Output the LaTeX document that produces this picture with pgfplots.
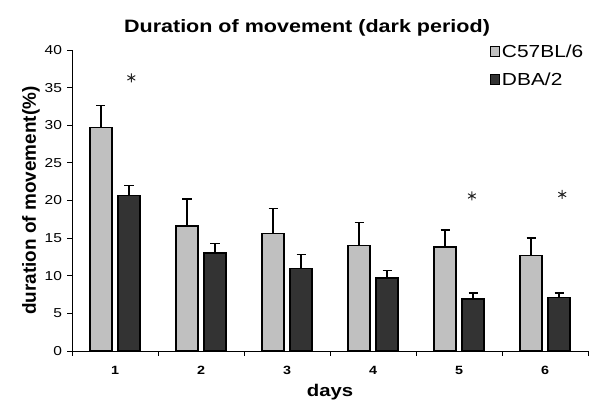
\documentclass[border=0pt]{standalone}
\usepackage{fontspec}
\setmainfont{Liberation Sans}[FakeStretch=1.2]
\newfontfamily\ylabfont{Liberation Sans}
\usepackage{pgfplots}
\pgfplotsset{compat=1.18}
\definecolor{lightbar}{HTML}{C0C0C0}
\definecolor{darkbar}{HTML}{333333}

\begin{document}
\begin{tikzpicture}
\begin{axis}[
    ybar,
    bar width=22bp,
    scale only axis,
    width=516bp, height=301bp,
    xmin=0.5, xmax=6.5,
    ymin=0, ymax=40,
    axis x line=bottom, axis y line=left,
    axis line style={-, line width=0.8bp},
    tick align=outside,
    major tick length=4.5bp,
    tick style={line width=0.8bp, black},
    ytick={0,5,...,40},
    xtick={1,...,6},
    major x tick style={draw=none},
    extra x ticks={0.5,1.5,...,6.5},
    extra x tick labels={},
    extra x tick style={major x tick style={draw=black, line width=0.8bp}},
    /pgf/number format/assume math mode=true,
    yticklabel style={font=\fontsize{13}{15}\selectfont, xshift=-2bp},
    xticklabel style={font=\fontsize{12}{14}\selectfont\bfseries, yshift=-7bp},
    xlabel={\bfseries days},
    xlabel style={font=\fontsize{17}{19}\selectfont, yshift=6bp},
    ylabel={\ylabfont\bfseries duration of movement(\%)},
    ylabel style={font=\fontsize{19}{21}\selectfont, yshift=-2bp},
    title={\bfseries Duration of movement (dark period)},
    title style={font=\fontsize{18}{20}\selectfont, xshift=-23bp, yshift=4bp},
    legend style={draw=none, fill=none, at={(rel axis cs:0.81,1.025)}, anchor=north west,
        font=\fontsize{17.5}{20}\selectfont, row sep=10bp, inner sep=0bp,
        nodes={inner sep=2bp}},
    legend cell align=left,
    legend image code/.code={\draw[#1, line width=0.8bp] (0bp,-5bp) rectangle (9bp,5bp);},
]
\addplot[bar shift=-14bp, fill=lightbar, draw=black, line width=1.4bp,
    error bars/.cd, y dir=plus, y explicit,
    error bar style={line width=1.4bp, black},
    error mark options={rotate=90, line width=1.4bp, mark size=4.5bp, black}]
    coordinates {
    (1,29.7) +- (0,2.9)
    (2,16.6) +- (0,3.6)
    (3,15.6) +- (0,3.3)
    (4,14.0) +- (0,3.1)
    (5,13.8) +- (0,2.3)
    (6,12.7) +- (0,2.3)
};
\addlegendentry{C57BL/6}
\addplot[bar shift=14bp, fill=darkbar, draw=black, line width=1.4bp,
    error bars/.cd, y dir=plus, y explicit,
    error bar style={line width=1.4bp, black},
    error mark options={rotate=90, line width=1.4bp, mark size=4.5bp, black}]
    coordinates {
    (1,20.7) +- (0,1.3)
    (2,13.0) +- (0,1.3)
    (3,11.0) +- (0,1.8)
    (4,9.7) +- (0,1.0)
    (5,6.9) +- (0,0.8)
    (6,7.1) +- (0,0.6)
};
\addlegendentry{DBA/2}
\addplot[sharp plot, only marks, mark=asterisk, mark size=4.5bp, line width=1bp, black!85, forget plot]
    coordinates {(1.19,36.3) (5.15,20.6) (6.2,20.8)};
\end{axis}
\pgfresetboundingbox
\path (current axis.south west) ++(-72bp,-49bp) rectangle ++(592bp,400bp);
\end{tikzpicture}
\end{document}
